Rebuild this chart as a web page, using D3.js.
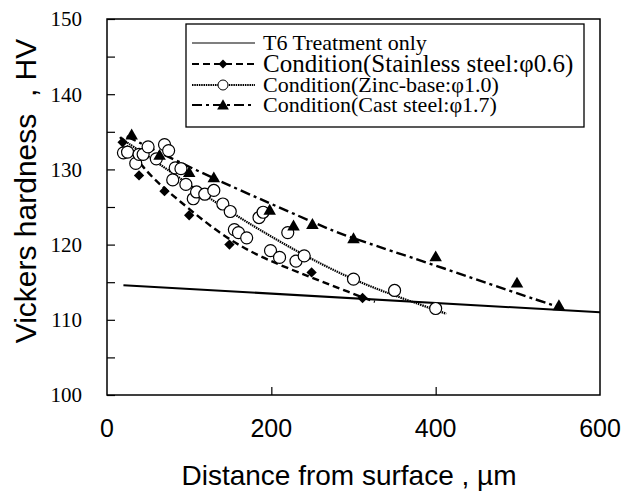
<!DOCTYPE html>
<html><head><meta charset="utf-8">
<script src="https://cdn.jsdelivr.net/npm/d3@7"></script>
<style>body{margin:0;background:#fff}</style>
</head><body>
<svg id="c" width="622" height="495"></svg>
<script>
// ---- data ----
const xTicks = [0, 200, 400, 600];
const yTicks = [100, 110, 120, 130, 140, 150];
const yMinorTicks = [105, 115, 125, 135, 145];
const legendLabels = ["T6 Treatment only", "Condition(Stainless steel:\u03c60.6)", "Condition(Zinc-base:\u03c61.0)", "Condition(Cast steel:\u03c61.7)"];

const t6Line = [[20, 114.6], [600, 111.0]];

const stainlessX = [19, 39, 70, 100, 149, 249, 311];
const stainlessY = [133.6, 129.2, 127.1, 123.9, 120.0, 116.3, 112.9];
const stainlessTrend = [[16,134.3],[44,130.2],[64,128.0],[85,126.1],[137,121.4],[186,118.3],[250,115.6],[296,113.6],[326,112.4]];

const zincX = [20,25,35,39,44,50,60,70,75,80,83,90,96,105,109,119,130,141,150,155,160,170,185,190,199,210,220,230,240,300,350,400];
const zincY = [132.2,132.3,130.8,132.0,132.0,133.0,131.4,133.3,132.5,128.6,130.2,130.1,128.0,126.1,127.0,126.7,127.2,125.4,124.4,122.0,121.6,120.9,123.6,124.3,119.2,118.3,121.6,117.8,118.5,115.4,113.9,111.5];
const zincTrend = [[20,133.9],[60,131.0],[89,128.8],[150,124.3],[210,120.4],[250,118.0],[300,115.3],[350,113.2],[413,110.8]];

const castX = [30, 64, 100, 130, 198, 227, 250, 300, 400, 499, 550];
const castY = [134.6, 131.9, 129.6, 128.9, 124.6, 122.5, 122.7, 120.8, 118.4, 114.9, 111.9];
const castTrend = [[24,134.4],[113,129.6],[200,125.4],[271,122.0],[300,120.8],[393,117.5],[494,113.7],[555,111.5]];

// ---- layout ----
const svg = d3.select("#c");
const L = 107, R = 600, T = 19, B = 395;
const x = d3.scaleLinear().domain([0, 600]).range([L, R]);
const y = d3.scaleLinear().domain([100, 150]).range([B, T]);
const serif = "'Liberation Serif','Times New Roman',serif";
const sans = "'Liberation Sans',Arial,sans-serif";

// frame
svg.append("rect").attr("x", L).attr("y", T).attr("width", R - L).attr("height", B - T)
  .attr("fill", "none").attr("stroke", "#000").attr("stroke-width", 1.5);

// y axis (ticks inward)
const yAxis = d3.axisRight(y).tickValues(yTicks.concat(yMinorTicks)).tickSize(8).tickFormat("");
const gy = svg.append("g").attr("transform", `translate(${L},0)`).call(yAxis);
gy.select(".domain").remove();
gy.selectAll("line").attr("stroke-width", 1.2);
svg.append("g").selectAll("text").data(yTicks).join("text")
  .attr("x", L - 25).attr("y", d => y(d)).attr("dy", "0.35em")
  .attr("text-anchor", "end").attr("font-family", serif).attr("font-size", 21).text(d => d);

// x axis (ticks inward)
const xAxis = d3.axisTop(x).tickValues(xTicks.filter(d => d > 0 && d < 600)).tickSize(8).tickFormat("");
const gx = svg.append("g").attr("transform", `translate(0,${B})`).call(xAxis);
gx.select(".domain").remove();
gx.selectAll("line").attr("stroke-width", 1.2);
svg.append("g").selectAll("text").data(xTicks).join("text")
  .attr("x", d => x(d)).attr("y", B + 42)
  .attr("text-anchor", "middle").attr("font-family", sans).attr("font-size", 25).text(d => d);

// axis titles
svg.append("text").attr("x", 349).attr("y", 485).attr("text-anchor", "middle")
  .attr("font-family", sans).attr("font-size", 28).text("Distance from surface , \u00b5m");
svg.append("text").attr("transform", `translate(36,191) rotate(-90)`)
  .attr("text-anchor", "middle").attr("font-family", sans).attr("font-size", 30)
  .text("Vickers hardness\u00a0\u00a0, HV");

const line = d3.line().x(d => x(d[0])).y(d => y(d[1]));
const smooth = d3.line().x(d => x(d[0])).y(d => y(d[1])).curve(d3.curveBasis);

const styles = {
  t6: {dash: null, w: 2},
  st: {dash: "7,4", w: 2.4},
  zn: {dash: "1.5,0.8", w: 2.2},
  ca: {dash: "10,4,3,4", w: 2.4}
};

svg.append("path").attr("d", line(t6Line)).attr("fill", "none").attr("stroke", "#000").attr("stroke-width", styles.t6.w);
svg.append("path").attr("d", smooth(stainlessTrend)).attr("fill", "none").attr("stroke", "#000").attr("stroke-width", styles.st.w).attr("stroke-dasharray", styles.st.dash);
svg.append("path").attr("d", smooth(zincTrend)).attr("fill", "none").attr("stroke", "#000").attr("stroke-width", styles.zn.w).attr("stroke-dasharray", styles.zn.dash);
svg.append("path").attr("d", smooth(castTrend)).attr("fill", "none").attr("stroke", "#000").attr("stroke-width", styles.ca.w).attr("stroke-dasharray", styles.ca.dash);

const diamond = d3.symbol().type(d3.symbolDiamond2).size(68)();
const tri = d3.symbol().type(d3.symbolTriangle).size(68)();

svg.append("g").selectAll("circle").data(d3.zip(zincX, zincY)).join("circle")
  .attr("cx", d => x(d[0])).attr("cy", d => y(d[1])).attr("r", 6)
  .attr("fill", "#fff").attr("stroke", "#000").attr("stroke-width", 1.2);
svg.append("g").selectAll("path").data(d3.zip(stainlessX, stainlessY)).join("path")
  .attr("d", diamond).attr("transform", d => `translate(${x(d[0])},${y(d[1])})`).attr("fill", "#000");
svg.append("g").selectAll("path").data(d3.zip(castX, castY)).join("path")
  .attr("d", tri).attr("transform", d => `translate(${x(d[0])},${y(d[1]) + 1})`).attr("fill", "#000");

// legend
const lg = svg.append("g");
lg.append("rect").attr("x", 186).attr("y", 24).attr("width", 398).attr("height", 103)
  .attr("fill", "#fff").attr("stroke", "#000").attr("stroke-width", 1.3);
const rows = [43, 64, 85, 105];
const sizes = [22, 25, 22, 22];
const keys = ["t6", "st", "zn", "ca"];
rows.forEach((ry, i) => {
  const s = styles[keys[i]];
  lg.append("line").attr("x1", 192).attr("x2", 255).attr("y1", ry).attr("y2", ry)
    .attr("stroke", "#000").attr("stroke-width", i === 0 ? 1.2 : 2).attr("stroke-dasharray", s.dash);
  if (i === 1) lg.append("path").attr("d", d3.symbol().type(d3.symbolDiamond2).size(50)()).attr("transform", `translate(223,${ry})`);
  if (i === 2) lg.append("circle").attr("cx", 223).attr("cy", ry).attr("r", 5).attr("fill", "#fff").attr("stroke", "#000");
  if (i === 3) lg.append("path").attr("d", d3.symbol().type(d3.symbolTriangle).size(60)()).attr("transform", `translate(223,${ry + 1})`);
  lg.append("text").attr("x", 263).attr("y", ry).attr("dy", "0.33em")
    .attr("font-family", serif).attr("font-size", sizes[i]).text(legendLabels[i]);
});
</script>
</body></html>
